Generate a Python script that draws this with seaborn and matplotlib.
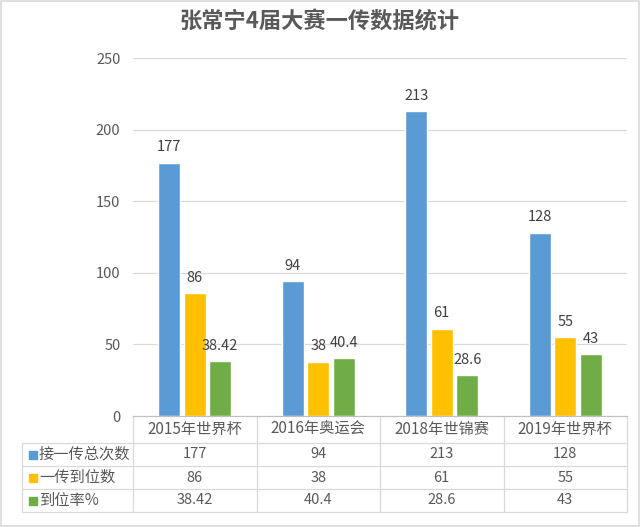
import pandas as pd
import matplotlib.pyplot as plt
import matplotlib.transforms as mtransforms
from matplotlib.patches import Rectangle
import seaborn as sns

# ==========================================
# DATA
# ==========================================
categories = ['2015年世界杯', '2016年奥运会', '2018年世锦赛', '2019年世界杯']
series_names = ['接一传总次数', '一传到位数', '到位率%']
total_passes = [177, 94, 213, 128]
good_passes = [86, 38, 61, 55]
good_rate = [38.42, 40.4, 28.6, 43]
y_ticks = [0, 50, 100, 150, 200, 250]

series_values = [total_passes, good_passes, good_rate]
colors = ['#5B9BD5', '#FFC000', '#70AD47']

df = pd.DataFrame({
    '赛事': categories * 3,
    '指标': [s for s in series_names for _ in categories],
    '数值': total_passes + good_passes + good_rate,
})

# ==========================================
# STYLE
# ==========================================
sns.set_style('white')
plt.rcParams['font.family'] = ['Noto Sans CJK SC', 'DejaVu Sans']
text_color = '#595959'
line_color = '#D9D9D9'

fig = plt.figure(figsize=(6.4, 5.27), dpi=100)
ax = fig.add_axes([133 / 640, 111 / 527, 494 / 640, 358 / 527])

sns.barplot(data=df, x='赛事', y='数值', hue='指标', hue_order=series_names,
            palette=colors, width=0.62, gap=0.15, ax=ax, legend=False,
            saturation=1)

# value labels above bars
for cont, vals in zip(ax.containers, series_values):
    ax.bar_label(cont, labels=[f'{v:g}' for v in vals], padding=6,
                 fontsize=10.5, color='#404040')

ax.set_ylim(0, 250)
ax.set_yticks(y_ticks)
ax.set_xlim(-0.5, 3.5)
ax.set_xticks(range(len(categories)))
ax.set_xticklabels([])
ax.set_xlabel('')
ax.set_ylabel('')
ax.tick_params(axis='y', length=0, pad=9, labelsize=10.5, labelcolor=text_color)
ax.tick_params(axis='x', length=0)
ax.yaxis.grid(True, color=line_color, linewidth=0.9)
ax.set_axisbelow(True)
for side in ['top', 'right', 'left']:
    ax.spines[side].set_visible(False)
ax.spines['bottom'].set_color('#BFBFBF')

# ==========================================
# DATA TABLE BELOW THE AXES
# ==========================================
trans = mtransforms.blended_transform_factory(ax.transData, ax.transAxes)
header_h = 27 / 358
row_h = 23 / 358
label_left = (22 - 133) / 494
y_header = -header_h
y_rows = [y_header - row_h * (k + 1) for k in range(3)]
y_bottom = y_rows[-1]

line_kw = dict(color=line_color, linewidth=0.9, clip_on=False)
# horizontal lines
for y in [y_header] + y_rows:
    ax.plot([label_left, 1], [y, y], transform=ax.transAxes, **line_kw)
# vertical lines at column edges
for i in range(len(categories) + 1):
    ax.plot([i - 0.5, i - 0.5], [0, y_bottom], transform=trans, **line_kw)
ax.plot([label_left, label_left], [y_header, y_bottom], transform=ax.transAxes, **line_kw)

# header texts
for i, cat in enumerate(categories):
    ax.text(i, y_header / 2, cat, transform=trans, ha='center', va='center',
            fontsize=11, color=text_color)

# row labels and values
for k, (name, vals, col) in enumerate(zip(series_names, series_values, colors)):
    yc = y_header - row_h * (k + 0.5)
    ax.add_patch(Rectangle((label_left + 7 / 494, yc - 4 / 358), 8 / 494, 8 / 358,
                           transform=ax.transAxes, color=col, clip_on=False))
    ax.text(label_left + 17 / 494, yc, name, transform=ax.transAxes,
            ha='left', va='center', fontsize=11, color=text_color)
    for i, v in enumerate(vals):
        ax.text(i, yc, f'{v:g}', transform=trans, ha='center', va='center',
                fontsize=10.5, color=text_color)

# title
fig.text(0.5, 1 - 22 / 527, '张常宁4届大赛一传数据统计', ha='center', va='center',
         fontsize=16, fontweight='bold', color=text_color)

# outer border
fig.patches.append(Rectangle((0.002, 0.002), 0.996, 0.996, transform=fig.transFigure,
                             fill=False, edgecolor=line_color, linewidth=1.2))

plt.savefig('out.png', dpi=100)
